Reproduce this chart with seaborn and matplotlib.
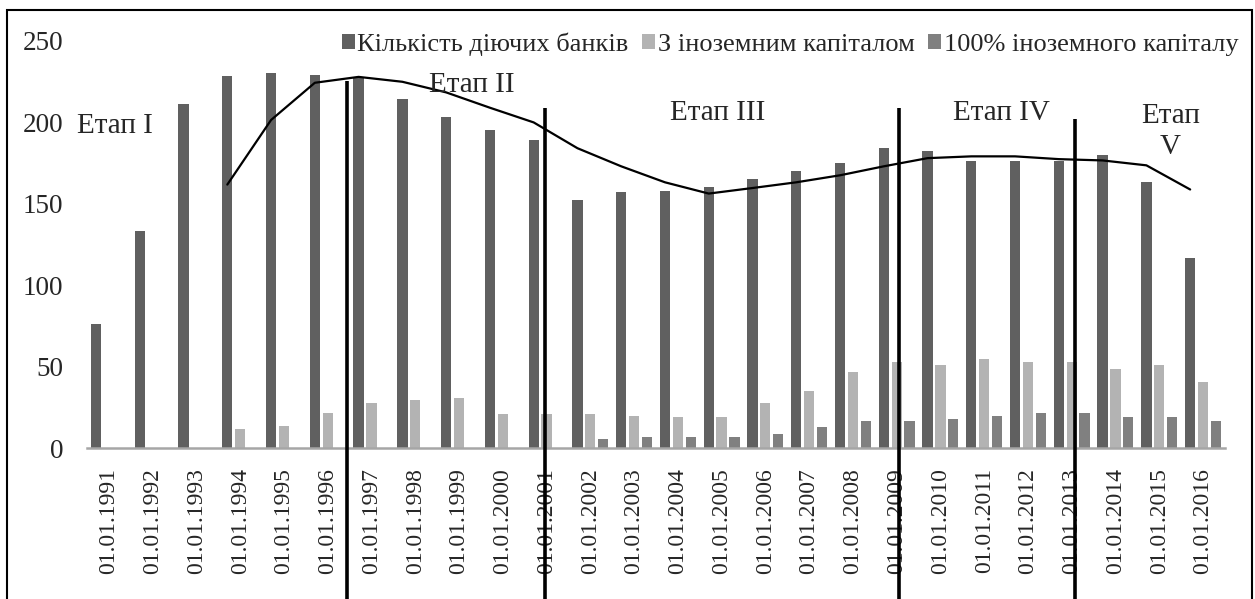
import numpy as np
import pandas as pd
import matplotlib
matplotlib.use("Agg")
import matplotlib.pyplot as plt
import matplotlib.patches as mpatches
import seaborn as sns

dates = ["01.01.1991", "01.01.1992", "01.01.1993", "01.01.1994", "01.01.1995",
         "01.01.1996", "01.01.1997", "01.01.1998", "01.01.1999", "01.01.2000",
         "01.01.2001", "01.01.2002", "01.01.2003", "01.01.2004", "01.01.2005",
         "01.01.2006", "01.01.2007", "01.01.2008", "01.01.2009", "01.01.2010",
         "01.01.2011", "01.01.2012", "01.01.2013", "01.01.2014", "01.01.2015",
         "01.01.2016"]
series_names = ["Кількість діючих банків", "З іноземним капіталом",
                "100% іноземного капіталу"]
active_banks = [76, 133, 211, 228, 230, 229, 227, 214, 203, 195, 189, 152, 157,
                158, 160, 165, 170, 175, 184, 182, 176, 176, 176, 180, 163, 117]
foreign_capital = [0, 0, 0, 12, 14, 22, 28, 30, 31, 21, 21, 21, 20, 19, 19, 28,
                   35, 47, 53, 51, 55, 53, 53, 49, 51, 41]
full_foreign = [0, 0, 0, 0, 0, 0, 0, 0, 0, 0, 0, 6, 7, 7, 7, 9, 13, 17, 17, 18,
                20, 22, 22, 19, 19, 17]
# trend line (drawn from 01.01.1994 onwards)
trend_start = 3
trend_values = [161.7, 201.3, 224.1, 227.7, 224.7, 218.2, 208.8, 199.8, 184.0,
                172.9, 163.1, 156.2, 159.6, 163.1, 167.4, 172.9, 177.9, 179.0,
                179.0, 177.3, 176.5, 173.5, 158.7]
# stage dividers and labels
stage_line_x = [5.43, 9.97, 18.05, 22.08]
stage_line_top = [225.3, 208.8, 208.8, 202.1]
stage_labels = ["Етап I", "Етап II", "Етап III", "Етап IV", "Етап\nV"]
stage_label_x = [0.14, 8.30, 13.9, 20.39, 24.25]
stage_label_y = [197.9, 222.9, 205.4, 205.4, 194.2]
yticks = [0, 50, 100, 150, 200, 250]

colors = ["#606060", "#b3b3b3", "#808080"]

df = pd.DataFrame({
    "date": dates * 3,
    "series": [series_names[0]] * len(dates) + [series_names[1]] * len(dates)
              + [series_names[2]] * len(dates),
    "value": active_banks + foreign_capital + full_foreign,
})

sns.set_style("white")
plt.rcParams["font.family"] = ["Liberation Serif", "DejaVu Serif"]

fig = plt.figure(figsize=(12.55, 5.99), dpi=100)
ax = fig.add_axes([0.0693, 0.2513, 0.9067, 0.6811])

sns.barplot(data=df, x="date", y="value", hue="series", palette=colors,
            width=0.88, gap=0.2, linewidth=0, ax=ax, legend=True)

# trend line placed at the centers of the first-series bars
n = len(dates)
dark_patches = ax.patches[:n]
centers = [p.get_x() + p.get_width() / 2 for p in dark_patches]
ax.plot(centers[trend_start:trend_start + len(trend_values)], trend_values,
        color="black", lw=1.6, zorder=5)

ax.vlines(stage_line_x, -120, stage_line_top, colors="black", lw=2.6,
          clip_on=False, zorder=6)
for lbl, x, y in zip(stage_labels, stage_label_x, stage_label_y):
    ax.text(x, y, lbl, ha="center", va="center", fontsize=21,
            linespacing=1.25, zorder=7)

ax.set_ylim(0, 250)
ax.set_xlim(-0.5, n - 0.5)
ax.set_yticks(yticks)
ax.set_yticklabels([str(v) for v in yticks])
ax.set_xlabel("")
ax.set_ylabel("")
ax.tick_params(axis="x", length=0, pad=14, labelsize=17, labelrotation=90)
ax.tick_params(axis="y", length=0, pad=17, labelsize=19.5)
for s in ["top", "right", "left"]:
    ax.spines[s].set_visible(False)
ax.spines["bottom"].set_color("#a6a6a6")
ax.spines["bottom"].set_linewidth(1.8)

handles, labels = ax.get_legend_handles_labels()
ax.get_legend().remove()
fig.legend(handles, labels, loc="center right", bbox_to_anchor=(0.995, 0.926),
           ncol=3, frameon=False, fontsize=19, handlelength=0.5,
           handleheight=0.5, handletextpad=0.1, columnspacing=0.5,
           borderaxespad=0)

border = mpatches.Rectangle((0.0056, -0.1), 0.992, 1.0834,
                            transform=fig.transFigure, fill=False,
                            edgecolor="black", lw=1.5, clip_on=False)
fig.patches.append(border)

fig.savefig("out.png", dpi=100)
